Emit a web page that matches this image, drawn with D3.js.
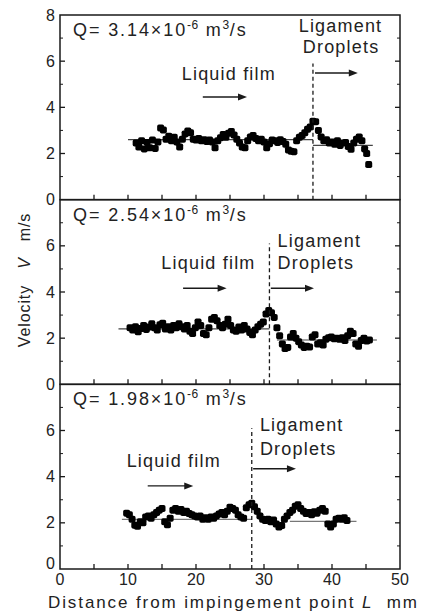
<!DOCTYPE html>
<html>
<head>
<meta charset="utf-8">
<script src="https://cdn.jsdelivr.net/npm/d3@7"></script>
<style>
  html, body { margin: 0; padding: 0; background: #fff; }
  svg { display: block; font-family: Arial, "Liberation Sans", sans-serif; }
  text { white-space: pre; }
</style>
</head>
<body>
<svg id="chart" width="428" height="613"></svg>
<script>
// Velocity along the sheet for three flow rates
const flowLabels = ["3.14", "2.54", "1.98"];

const dist1 = [11.2, 11.6, 12.0, 12.4, 12.8, 13.2, 13.6, 14.0, 14.4, 14.8, 15.2, 15.6, 16.0, 16.4, 16.8, 17.2, 17.6, 18.0, 18.4, 18.8, 19.2, 19.6, 20.0, 20.4, 20.8, 21.2, 21.6, 22.0, 22.4, 22.8, 23.2, 23.6, 24.0, 24.4, 24.8, 25.2, 25.6, 26.0, 26.4, 26.8, 27.2, 27.6, 28.0, 28.4, 28.8, 29.2, 29.6, 30.0, 30.4, 30.8, 31.2, 31.6, 32.0, 32.4, 32.8, 33.2, 33.6, 34.0, 34.4, 34.8, 35.2, 35.6, 36.0, 36.4, 36.8, 37.2, 37.6, 38.0, 38.4, 38.8, 39.2, 39.6, 40.0, 40.4, 40.8, 41.2, 41.6, 42.0, 42.4, 42.8, 43.2, 43.6, 44.0, 44.4, 44.8, 45.1, 45.4];
const vel1 = [2.45, 2.28, 2.55, 2.20, 2.48, 2.25, 2.58, 2.22, 2.50, 3.10, 3.02, 2.62, 2.75, 2.55, 2.70, 2.50, 2.28, 2.62, 2.85, 2.98, 2.90, 2.62, 2.58, 2.65, 2.55, 2.60, 2.52, 2.58, 2.50, 2.25, 2.55, 2.68, 2.82, 2.70, 2.88, 2.95, 2.80, 2.62, 2.45, 2.28, 2.25, 2.55, 2.72, 2.78, 2.65, 2.55, 2.62, 2.50, 2.25, 2.42, 2.58, 2.55, 2.48, 2.60, 2.52, 2.40, 2.15, 2.10, 2.08, 2.55, 2.70, 2.78, 2.90, 3.05, 3.15, 3.40, 3.38, 3.00, 2.72, 2.55, 2.60, 2.45, 2.50, 2.40, 2.55, 2.35, 2.45, 2.48, 2.30, 2.18, 2.45, 2.62, 2.72, 2.55, 2.20, 2.00, 1.52];

const dist2 = [10.3, 10.7, 11.1, 11.5, 11.9, 12.3, 12.7, 13.1, 13.5, 13.9, 14.3, 14.7, 15.1, 15.5, 15.9, 16.3, 16.7, 17.1, 17.5, 17.9, 18.3, 18.7, 19.1, 19.5, 19.9, 20.3, 20.7, 21.1, 21.5, 21.9, 22.3, 22.7, 23.1, 23.5, 23.9, 24.3, 24.7, 25.1, 25.5, 25.9, 26.3, 26.7, 27.1, 27.5, 27.9, 28.3, 28.7, 29.1, 29.5, 29.9, 30.3, 30.7, 31.1, 31.5, 31.9, 32.3, 32.7, 33.1, 33.5, 33.9, 34.3, 34.7, 35.1, 35.5, 35.9, 36.3, 36.7, 37.1, 37.5, 37.9, 38.3, 38.7, 39.1, 39.5, 39.9, 40.3, 40.7, 41.1, 41.5, 41.9, 42.3, 42.7, 43.1, 43.5, 43.9, 44.3, 44.7, 45.1, 45.5];
const vel2 = [2.45, 2.35, 2.50, 2.28, 2.42, 2.55, 2.38, 2.48, 2.62, 2.45, 2.35, 2.58, 2.65, 2.40, 2.50, 2.35, 2.55, 2.45, 2.62, 2.50, 2.40, 2.55, 2.30, 2.20, 2.45, 2.70, 2.55, 2.20, 2.15, 2.45, 2.82, 2.90, 2.75, 2.55, 2.45, 2.60, 2.82, 2.55, 2.35, 2.30, 2.48, 2.35, 2.55, 2.40, 2.25, 2.15, 2.35, 2.50, 2.60, 2.70, 3.05, 3.20, 3.10, 2.90, 2.45, 2.10, 1.75, 1.55, 1.60, 2.05, 2.20, 2.00, 1.85, 1.70, 1.60, 1.65, 1.62, 2.05, 2.15, 1.75, 1.80, 1.70, 1.95, 2.02, 2.05, 1.98, 2.00, 1.95, 2.02, 1.90, 2.10, 2.30, 2.20, 1.75, 1.65, 1.90, 2.00, 1.88, 1.92];

const dist3 = [9.8, 10.2, 10.6, 11.0, 11.4, 11.8, 12.2, 12.6, 13.0, 13.4, 13.8, 14.2, 14.6, 15.0, 15.4, 15.8, 16.2, 16.6, 17.0, 17.4, 17.8, 18.2, 18.6, 19.0, 19.4, 19.8, 20.2, 20.6, 21.0, 21.4, 21.8, 22.2, 22.6, 23.0, 23.4, 23.8, 24.2, 24.6, 25.0, 25.4, 25.8, 26.2, 26.6, 27.0, 27.4, 27.8, 28.2, 28.6, 29.0, 29.4, 29.8, 30.2, 30.6, 31.0, 31.4, 31.8, 32.2, 32.6, 33.0, 33.4, 33.8, 34.2, 34.6, 35.0, 35.4, 35.8, 36.2, 36.6, 37.0, 37.4, 37.8, 38.2, 38.6, 39.0, 39.4, 39.8, 40.2, 40.6, 41.0, 41.4, 41.8, 42.2];
const vel3 = [2.42, 2.35, 2.15, 1.90, 1.85, 2.05, 2.00, 2.25, 2.30, 2.20, 2.35, 2.45, 2.55, 2.62, 2.05, 1.92, 2.20, 2.55, 2.62, 2.50, 2.58, 2.45, 2.50, 2.40, 2.35, 2.30, 2.25, 2.30, 2.15, 2.22, 2.15, 2.25, 2.20, 2.30, 2.38, 2.45, 2.35, 2.50, 2.68, 2.62, 2.55, 2.35, 2.25, 2.20, 2.65, 2.78, 2.85, 2.70, 2.50, 2.30, 2.15, 2.10, 2.15, 2.05, 2.12, 1.95, 1.82, 1.88, 2.15, 2.30, 2.45, 2.55, 2.72, 2.78, 2.62, 2.50, 2.40, 2.45, 2.35, 2.48, 2.42, 2.55, 2.62, 2.50, 1.95, 1.82, 1.95, 2.15, 2.20, 2.15, 2.22, 2.10];

// Break-up position (mm) where the film turns into ligaments/droplets
const breakup = [37.2, 30.8, 28.2];
// Averages: [start mm, end mm, velocity]
const filmMean = [[10.0, 37.2, 2.6], [8.6, 30.8, 2.4], [9.1, 28.2, 2.15]];
const dropMean = [[37.2, 46.0, 2.35], [31.9, 46.6, 1.92], [33.8, 43.6, 2.06]];

const xTicks = [0, 10, 20, 30, 40, 50];
const yTicksPanel = [[0, 2, 4, 6, 8], [0, 2, 4, 6], [0, 2, 4, 6]];

const series = [
  { dist: dist1, vel: vel1 },
  { dist: dist2, vel: vel2 },
  { dist: dist3, vel: vel3 }
];

const svg = d3.select("#chart");
const plotLeft = 60, plotRight = 400, plotTop = 15, plotBottom = 569;
const panelH = (plotBottom - plotTop) / 3;
const ink = "#1a1a1a";
const textInk = "#222";

const x = d3.scaleLinear().domain([0, 50]).range([plotLeft, plotRight]);

// label placement per panel (mm for x, velocity units for y)
const labelPos = [
  { film: [17.9, 5.2], filmArrow: [21.0, 27.5, 4.45], lig: [35.1, 7.25], drop: [35.7, 6.34], dropArrow: [37.5, 43.8, 5.49] },
  { film: [14.9, 4.98], filmArrow: [18.1, 24.5, 4.16], lig: [32.0, 5.93], drop: [32.0, 4.98], dropArrow: [31.0, 37.35, 4.16] },
  { film: [9.8, 4.43], filmArrow: [12.9, 19.6, 3.6], lig: [29.4, 5.96], drop: [29.4, 4.95], dropArrow: [28.4, 34.7, 4.34] }
];

series.forEach((s, i) => {
  const y0 = plotTop + i * panelH;
  const y = d3.scaleLinear().domain([0, 8]).range([y0 + panelH, y0]);
  const g = svg.append("g");

  // mean lines
  [filmMean[i], dropMean[i]].forEach(m => {
    g.append("line")
      .attr("x1", x(m[0])).attr("x2", x(m[1]))
      .attr("y1", y(m[2])).attr("y2", y(m[2]))
      .attr("stroke", i === 2 ? "#777" : "#444").attr("stroke-width", 1.2);
  });

  // data markers
  g.selectAll("rect.pt")
    .data(s.dist.map((d, k) => [d, s.vel[k]]))
    .join("rect")
    .attr("class", "pt")
    .attr("x", d => x(d[0]) - 3.5)
    .attr("y", d => y(d[1]) - 3.5)
    .attr("width", 7).attr("height", 7)
    .attr("rx", 1.8)
    .attr("fill", "#000");

  // break-up dashed line
  g.append("line")
    .attr("x1", x(breakup[i])).attr("x2", x(breakup[i]))
    .attr("y1", y(0)).attr("y2", y(i === 0 ? 5.9 : 6.1))
    .attr("stroke", ink).attr("stroke-width", 1.3)
    .attr("stroke-dasharray", "4,3");

  // frame
  g.append("rect")
    .attr("x", plotLeft).attr("y", y0)
    .attr("width", plotRight - plotLeft).attr("height", panelH)
    .attr("fill", "none").attr("stroke", ink).attr("stroke-width", 1.5);

  // y ticks, inward on both sides
  const yMajor = [2, 4, 6];
  const yMinor = [1, 3, 5, 7];
  yMajor.forEach(v => {
    g.append("line").attr("x1", plotLeft).attr("x2", plotLeft + 5).attr("y1", y(v)).attr("y2", y(v)).attr("stroke", ink).attr("stroke-width", 1.3);
    g.append("line").attr("x1", plotRight).attr("x2", plotRight - 5).attr("y1", y(v)).attr("y2", y(v)).attr("stroke", ink).attr("stroke-width", 1.3);
  });
  yMinor.forEach(v => {
    g.append("line").attr("x1", plotLeft).attr("x2", plotLeft + 3).attr("y1", y(v)).attr("y2", y(v)).attr("stroke", ink).attr("stroke-width", 1);
    g.append("line").attr("x1", plotRight).attr("x2", plotRight - 3).attr("y1", y(v)).attr("y2", y(v)).attr("stroke", ink).attr("stroke-width", 1);
  });

  // x ticks, inward from the bottom edge
  d3.range(5, 50, 5).forEach(v => {
    g.append("line").attr("x1", x(v)).attr("x2", x(v))
      .attr("y1", y(0)).attr("y2", y(0) - 5)
      .attr("stroke", ink).attr("stroke-width", 1.3);
  });

  // y tick labels
  g.selectAll("text.yl")
    .data(yTicksPanel[i])
    .join("text")
    .attr("class", "yl")
    .attr("x", plotLeft - 5)
    .attr("y", v => y(v) + (i === 2 && v === 0 ? 0 : 5.5))
    .attr("text-anchor", "end")
    .attr("font-size", 16)
    .attr("fill", textInk)
    .text(v => v);

  // flow rate label
  const q = g.append("text")
    .attr("x", 73).attr("y", y0 + 21)
    .attr("font-size", 18).attr("letter-spacing", 1.9).attr("fill", textInk);
  q.append("tspan").text("Q= " + flowLabels[i] + "×10");
  q.append("tspan").attr("font-size", 12).attr("letter-spacing", 0.5).attr("dy", -7).text("-6");
  q.append("tspan").attr("dy", 7).text(" m");
  q.append("tspan").attr("font-size", 12).attr("letter-spacing", 0.5).attr("dy", -7).text("3");
  q.append("tspan").attr("dy", 7).text("/s");

  const L = labelPos[i];
  [["Liquid film", L.film], ["Ligament", L.lig], ["Droplets", L.drop]].forEach(([t, p]) => {
    g.append("text").attr("x", x(p[0])).attr("y", y(p[1]))
      .attr("font-size", 18).attr("letter-spacing", 1.2)
      .attr("fill", textInk).text(t);
  });

  [L.filmArrow, L.dropArrow].forEach(a => {
    const ax1 = x(a[0]), ax2 = x(a[1]), ay = y(a[2]);
    g.append("line").attr("x1", ax1).attr("x2", ax2 - 4).attr("y1", ay).attr("y2", ay)
      .attr("stroke", ink).attr("stroke-width", 1.4);
    g.append("path")
      .attr("d", `M${ax2},${ay} L${ax2 - 9},${ay - 3.5} L${ax2 - 9},${ay + 3.5} Z`)
      .attr("fill", ink);
  });
});

// x tick labels under the bottom panel
svg.selectAll("text.xl")
  .data(xTicks)
  .join("text")
  .attr("class", "xl")
  .attr("x", d => x(d))
  .attr("y", 585)
  .attr("text-anchor", "middle")
  .attr("font-size", 16)
  .attr("fill", textInk)
  .text(d => d);

// axis titles
const xt = svg.append("text").attr("x", 48).attr("y", 608)
  .attr("font-size", 17).attr("letter-spacing", 1.9).attr("fill", textInk);
xt.append("tspan").text("Distance from impingement point ");
xt.append("tspan").attr("font-style", "italic").text("L");
xt.append("tspan").text("  mm");

const yt = svg.append("text")
  .attr("transform", `translate(30,280) rotate(-90)`)
  .attr("text-anchor", "middle")
  .attr("font-size", 16).attr("letter-spacing", 0.9).attr("fill", textInk);
yt.append("tspan").text("Velocity   ");
yt.append("tspan").attr("font-style", "italic").text("V");
yt.append("tspan").text("   m/s");
</script>
</body>
</html>
